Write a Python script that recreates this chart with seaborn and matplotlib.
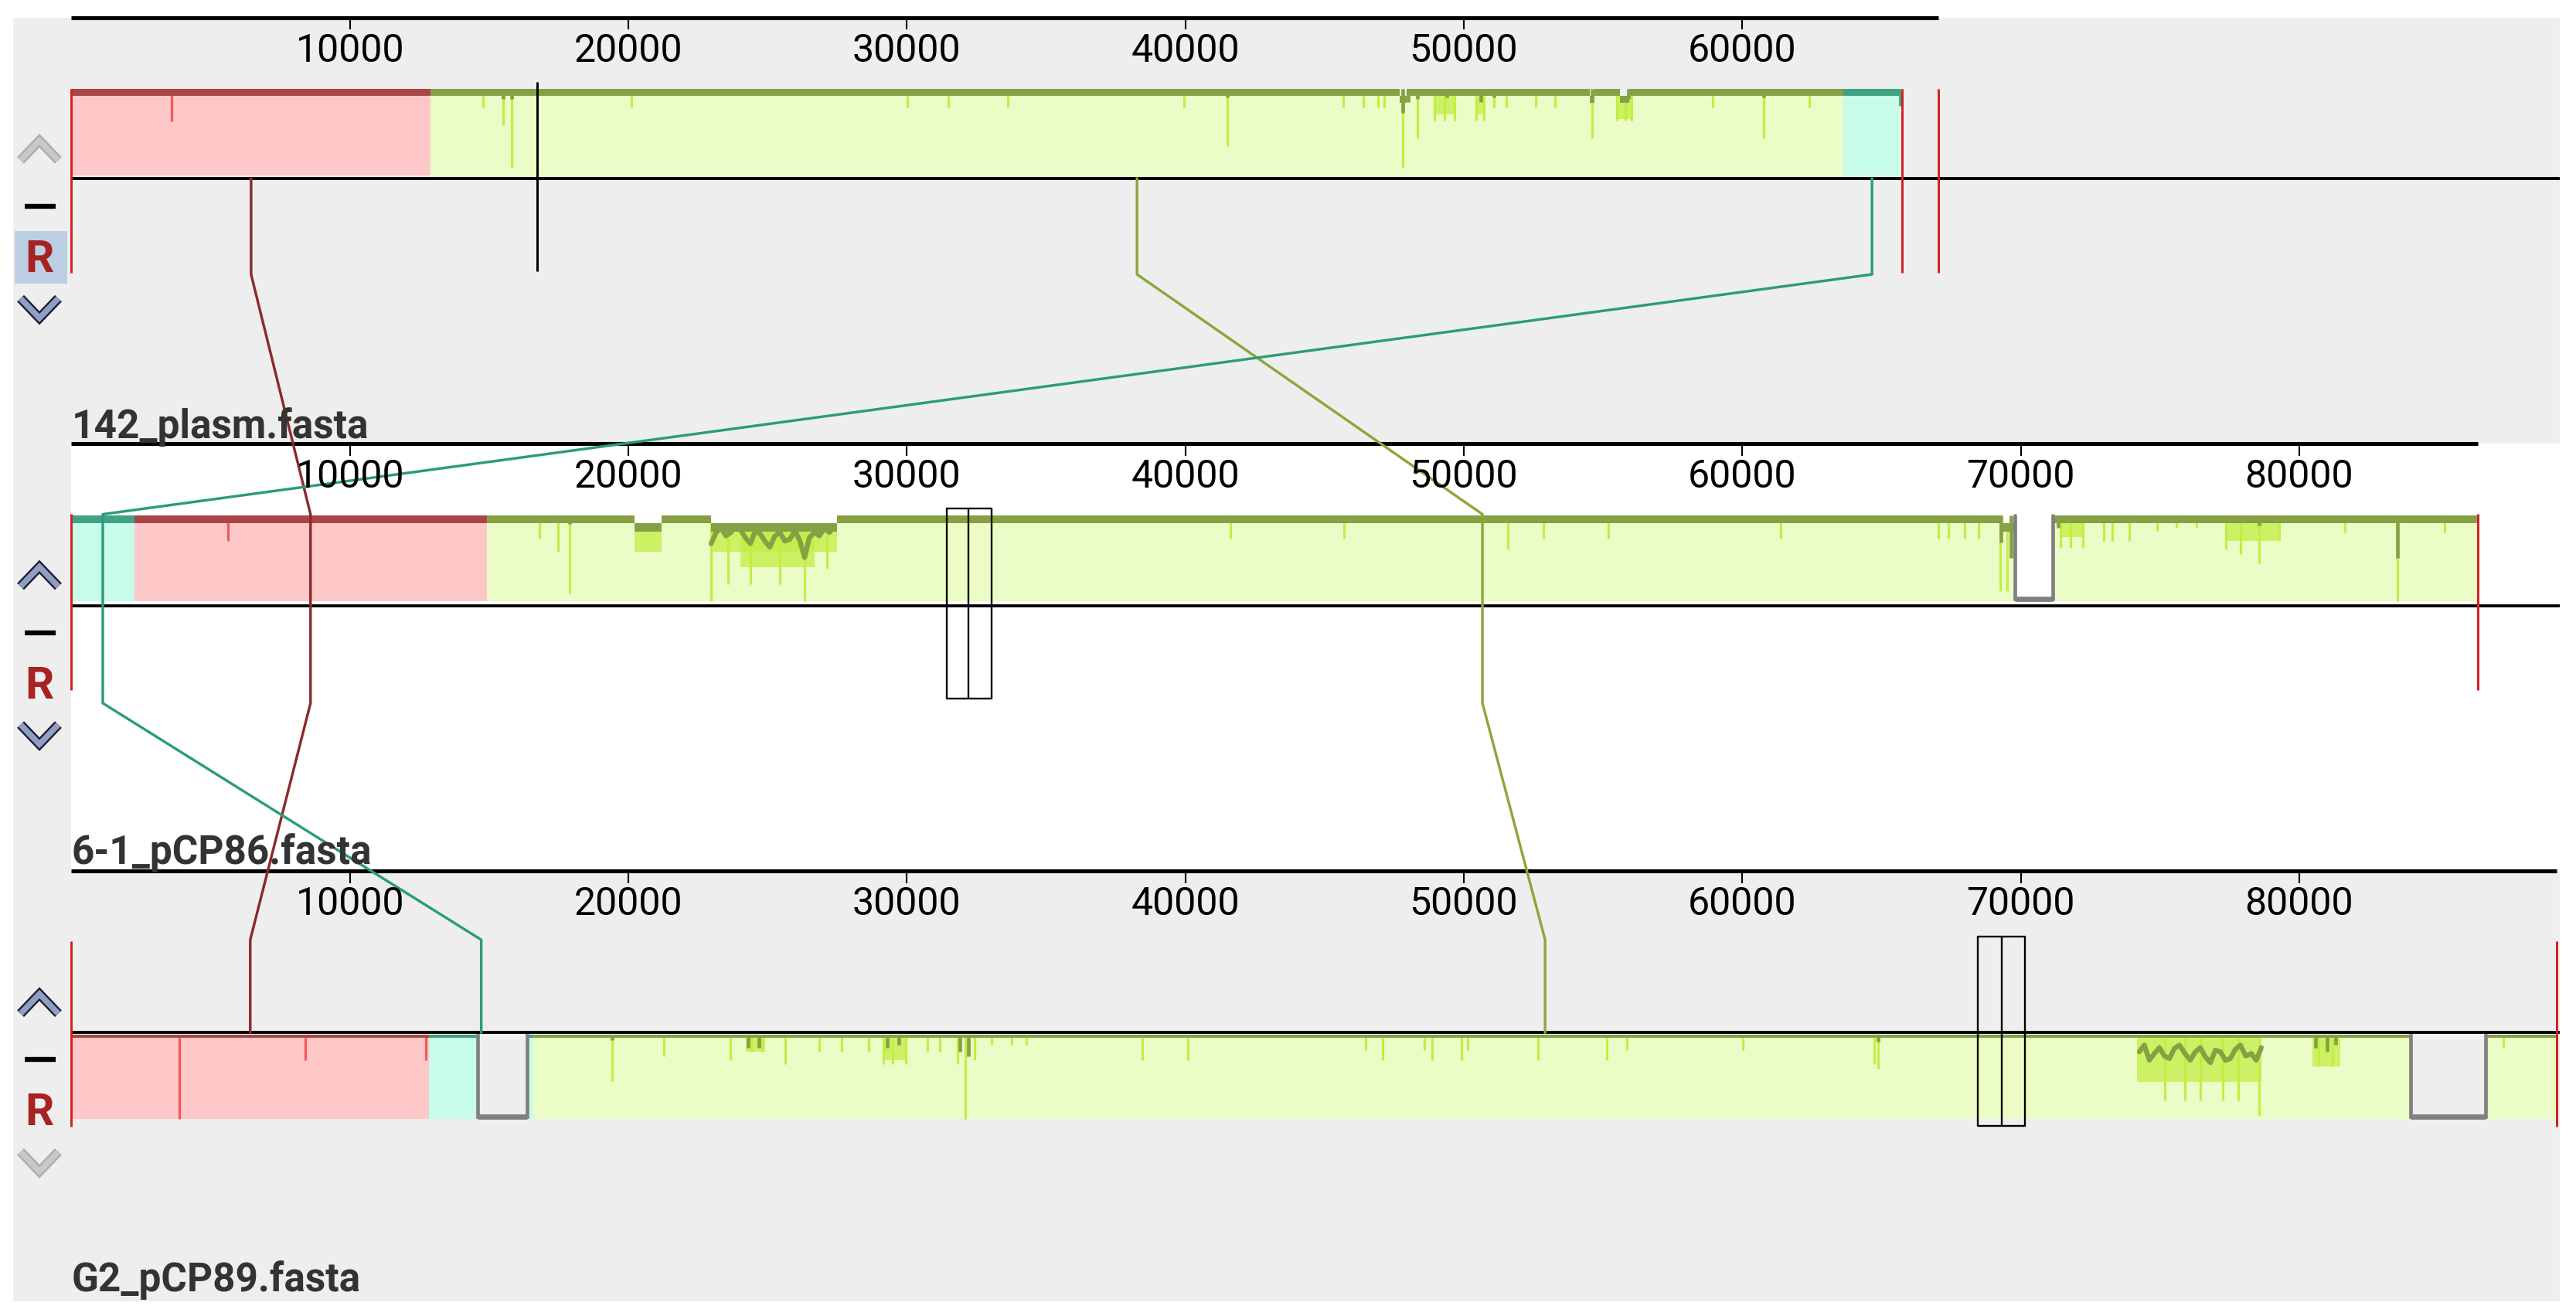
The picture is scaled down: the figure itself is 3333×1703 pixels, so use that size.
import pandas as pd
import matplotlib
matplotlib.use("Agg")
import matplotlib.pyplot as plt
import matplotlib.patheffects as pe
from matplotlib.patches import Rectangle
import seaborn as sns

# ---------------- data (positions in bp) ----------------
genome_names = ["142_plasm.fasta", "6-1_pCP86.fasta", "G2_pCP89.fasta"]
genome_lengths = [67050, 86420, 89250]
tick_step = 10000
lcb_names = ["red", "green", "cyan"]

# locally collinear blocks
g1_starts = [0, 12900, 63630]
g1_ends = [12900, 63630, 65690]
g1_lcbs = ["red", "green", "cyan"]
g2_starts = [0, 2250, 14920]
g2_ends = [2250, 14920, 86420]
g2_lcbs = ["cyan", "red", "green"]
g3_starts = [0, 12840, 16590]
g3_ends = [12840, 16590, 89250]
g3_lcbs = ["red", "cyan", "green"]

# similarity profile: low-identity spikes (position, depth as fraction of block height)
g1_spike_pos = [3590, 14780, 15500, 15810, 20110, 30020, 31500, 33630, 39950, 41510,
                45670, 46390, 46930, 47150, 47810, 48340, 48950, 49300, 49670, 50440,
                50720, 51090, 51530, 52590, 53280, 54610, 55500, 55800, 56030, 58940,
                60770, 62410]
g1_spike_depth = [.38, .22, .42, .91, .22, .22, .22, .22, .22, .66,
                  .22, .22, .22, .22, .91, .57, .37, .37, .37, .37,
                  .37, .22, .22, .22, .22, .57, .37, .37, .37, .22,
                  .57, .22]
g2_spike_pos = [5620, 16810, 17470, 17890, 22970, 23570, 24380, 25440, 26330, 27130,
                41620, 45700, 51580, 52860, 55190, 61380, 67050, 67400, 68000, 68490,
                69270, 69500, 71420, 71800, 72240, 72980, 73300, 73900, 74900, 75600,
                76300, 77370, 77900, 78550, 79280, 81650, 83530, 85230]
g2_spike_depth = [.3, .27, .42, .91, 1.0, .8, .8, .8, 1.0, .62,
                  .27, .27, .4, .27, .27, .27, .27, .27, .27, .27,
                  .88, .88, .38, .38, .38, .3, .3, .3, .18, .15,
                  .15, .4, .45, .56, .3, .2, 1.0, .2]
g3_spike_pos = [3880, 8400, 12730, 19420, 21280, 23670, 24400, 24800, 25630, 26860,
                27660, 28630, 29160, 29500, 29970, 30750, 31190, 31830, 32100, 32440,
                33050, 33770, 34300, 38460, 40100, 46470, 47090, 48580, 48860, 49910,
                50140, 52660, 55140, 55860, 60020, 64740, 64880, 75170, 75900, 76450,
                77260, 77810, 78550, 80700, 81200, 87330]
g3_spike_depth = [1.0, .3, .3, .55, .25, .3, .2, .2, .35, .2,
                  .2, .2, .35, .35, .35, .2, .2, .35, 1.0, .3,
                  .12, .12, .12, .3, .3, .18, .3, .18, .3, .3,
                  .18, .3, .3, .18, .18, .35, .4, .78, .78, .78,
                  .78, .78, .96, .37, .37, .15]

# darker dips of the profile line
g1_dip_pos = [15500, 15810, 41510, 47810, 48000, 48340, 49400, 50600, 51090, 54610, 55900, 60770, 65690]
g1_dip_depth = [.12, .12, .1, .28, .15, .12, .1, .15, .1, .12, .12, .1, .2]
g2_dip_pos = [17890, 69300, 69650, 71350, 78550, 83530]
g2_dip_depth = [.1, .32, .5, .15, .12, .5]
g3_dip_pos = [19420, 24300, 24700, 29300, 29700, 31900, 32200, 64880, 80600, 81000, 81300]
g3_dip_depth = [.06, .15, .15, .15, .12, .2, .25, .08, .15, .2, .12]

# broad low-identity stretches
g1_patch_start = [48950, 50440, 55500]
g1_patch_end = [49670, 50720, 56030]
g1_patch_depth = [.3, .3, .35]
g2_patch_start = [20220, 22970, 24030, 71420, 77370]
g2_patch_end = [21200, 27500, 26700, 72240, 79280]
g2_patch_depth = [.42, .42, .6, .25, .3]
g3_patch_start = [24220, 29160, 74190, 80480]
g3_patch_end = [24910, 29970, 78650, 81480]
g3_patch_depth = [.2, .3, .56, .37]

# places where the profile drops below the block top
g1_notch_start = [47700, 54520, 55600]
g1_notch_end = [47950, 54700, 55950]
g2_notch_start = [20220, 22970, 69330]
g2_notch_end = [21200, 27500, 69800]
g3_notch_start = []
g3_notch_end = []

# wiggling profile through the most divergent regions
g2_prof_pos = [22970, 23150, 23330, 23500, 23680, 23860, 24030, 24200, 24380, 24560, 24740, 24900,
               25080, 25260, 25440, 25620, 25800, 25980, 26160, 26330, 26500, 26690, 26860, 27040,
               27220, 27390]
g2_prof_depth = [.33, .2, .15, .24, .2, .12, .17, .26, .33, .18, .22, .3,
                 .37, .24, .2, .3, .28, .18, .3, .49, .26, .2, .24, .15, .2, .12]
g3_prof_pos = [74260, 74440, 74620, 74800, 74980, 75160, 75340, 75520, 75700, 75900, 76090, 76270,
               76450, 76630, 76810, 76990, 77170, 77350, 77530, 77710, 77890, 78080, 78280, 78460,
               78640]
g3_prof_depth = [.2, .12, .3, .22, .15, .25, .28, .16, .12, .22, .3, .2,
                 .15, .26, .33, .18, .2, .3, .28, .17, .12, .25, .22, .3, .15]

# unaligned gaps inside blocks
g1_gap_start, g1_gap_end = [], []
g2_gap_start, g2_gap_end = [69800], [71160]
g3_gap_start, g3_gap_end = [14600, 84000], [16360, 86700]

# contig / replicon boundaries, cursor and selection boxes
g1_marks = [0, 65750, 67050]
g2_marks = [0, 86420]
g3_marks = [0, 89250]
g1_cursor = [16720]
g1_boxes, g2_boxes, g3_boxes = [], [[31420, 32210, 33050]], [[68460, 69310, 70150]]

# ---------------- style ----------------
fill_col = {"red": "#ffc8c8", "green": "#ebfcc6", "cyan": "#c8fcea"}
band_col = {"red": "#a84646", "green": "#86a044", "cyan": "#3fa284"}
spike_col = {"red": "#f05a5a", "green": "#c2ee44", "cyan": "#48d0a8"}
link_col = {"red": "#8c2a2a", "green": "#8aa83a", "cyan": "#2b9b7b"}
GRAY_BG = "#eeeeee"

# layout in screen rows (0..801) ; x uses bp, decorations converted from screen px
X0, PX_PER_BP = 43.5, 0.01695


def dx(px):
    return (px - X0) / PX_PER_BP


layout = [
    dict(axis_y=10.6, top=54.0, bot=106.6, center=108.6, link=(108.6, 167), band=4.2,
         mark=(54, 166), box=(50, 165), bg=GRAY_BG, bg_bot=270, up_on=False, down_on=True, sel=True),
    dict(axis_y=270, top=313.6, bot=366.0, center=368.8, link=(313, 428), band=5.0,
         mark=(313, 420), box=(309.7, 425.4), bg="white", bg_bot=530, up_on=True, down_on=True, sel=False),
    dict(axis_y=530, top=630.0, bot=681.0, center=628.5, link=(572, 628.5), band=1.8,
         mark=(573, 686), box=(570, 685.4), bg=GRAY_BG, bg_bot=792, up_on=True, down_on=False, sel=False),
]

genomes = [
    dict(starts=g1_starts, ends=g1_ends, lcbs=g1_lcbs, sp=g1_spike_pos, sd=g1_spike_depth,
         dp=g1_dip_pos, dd=g1_dip_depth, ps=g1_patch_start, pe=g1_patch_end, pd=g1_patch_depth,
         ns=g1_notch_start, ne=g1_notch_end, prof=([], []), gs=g1_gap_start, ge=g1_gap_end,
         marks=g1_marks, boxes=g1_boxes),
    dict(starts=g2_starts, ends=g2_ends, lcbs=g2_lcbs, sp=g2_spike_pos, sd=g2_spike_depth,
         dp=g2_dip_pos, dd=g2_dip_depth, ps=g2_patch_start, pe=g2_patch_end, pd=g2_patch_depth,
         ns=g2_notch_start, ne=g2_notch_end, prof=(g2_prof_pos, g2_prof_depth), gs=g2_gap_start,
         ge=g2_gap_end, marks=g2_marks, boxes=g2_boxes),
    dict(starts=g3_starts, ends=g3_ends, lcbs=g3_lcbs, sp=g3_spike_pos, sd=g3_spike_depth,
         dp=g3_dip_pos, dd=g3_dip_depth, ps=g3_patch_start, pe=g3_patch_end, pd=g3_patch_depth,
         ns=g3_notch_start, ne=g3_notch_end, prof=(g3_prof_pos, g3_prof_depth), gs=g3_gap_start,
         ge=g3_gap_end, marks=g3_marks, boxes=g3_boxes),
]

sns.set_theme(style="white")
plt.rcParams["font.family"] = ["Roboto", "DejaVu Sans"]

PT = 1.53  # points per screen px


def lcb_at(g, pos):
    for s, e, l in zip(g["starts"], g["ends"], g["lcbs"]):
        if s <= pos <= e:
            return l
    return "green"


def chevron(ax, cx, cy, up, on):
    hw, hh = 11.5, 6
    sgn = 1 if up else -1
    xs = [dx(cx - hw), dx(cx), dx(cx + hw)]
    ys = [cy + sgn * hh, cy - sgn * hh, cy + sgn * hh]
    face, edge = ("#8e9ec6", "#1c1c2c") if on else ("#c8c8c8", "#acacac")
    ax.plot(xs, ys, color=face, lw=3.6 * PT, solid_joinstyle="miter", solid_capstyle="butt",
            path_effects=[pe.Stroke(linewidth=5.8 * PT, foreground=edge), pe.Normal()], zorder=12)


def draw_genome(ax, name, length, g, lay):
    top, bot = lay["top"], lay["bot"]
    h = bot - top
    right = dx(1558)
    # backgrounds
    ax.add_patch(Rectangle((dx(8), lay["axis_y"]), right - dx(8), lay["bg_bot"] - lay["axis_y"],
                           color=lay["bg"], lw=0, zorder=0))
    ax.add_patch(Rectangle((dx(8), lay["axis_y"]), dx(43.5) - dx(8), lay["bg_bot"] - lay["axis_y"],
                           color=GRAY_BG, lw=0, zorder=0))
    # ruler
    ax.hlines(lay["axis_y"], 0, length, color="black", lw=2.4 * PT, zorder=9)
    ticks = list(range(tick_step, length, tick_step))
    ax.vlines(ticks, lay["axis_y"], lay["axis_y"] + 7.5, color="black", lw=1 * PT, zorder=9)
    for t in ticks:
        ax.text(t, lay["axis_y"] + 27, str(t), ha="center", va="baseline", color="black",
                fontsize=36, zorder=11)
    # blocks
    for s, e, l in zip(g["starts"], g["ends"], g["lcbs"]):
        ax.add_patch(Rectangle((s, top), e - s, h, color=fill_col[l], lw=0, zorder=1))
        ax.add_patch(Rectangle((s, top), e - s, lay["band"], color=band_col[l], lw=0, zorder=4))
    for s, e, d in zip(g["ps"], g["pe"], g["pd"]):
        l = lcb_at(g, s)
        ax.add_patch(Rectangle((s, top), e - s, d * h, color=spike_col[l], lw=0, alpha=.75, zorder=2))
    for p, d in zip(g["sp"], g["sd"]):
        ax.vlines(p, top, top + d * h, color=spike_col[lcb_at(g, p)], lw=1.5 * PT, zorder=3)
    for s, e in zip(g["ns"], g["ne"]):
        l = lcb_at(g, s)
        ax.add_patch(Rectangle((s, top), e - s, lay["band"], color=lay["bg"], lw=0, zorder=5))
        ax.add_patch(Rectangle((s, top + lay["band"]), e - s, lay["band"], color=band_col[l], lw=0, zorder=5))
    for p, d in zip(g["dp"], g["dd"]):
        ax.vlines(p, top, top + d * h, color=band_col[lcb_at(g, p)], lw=2.2 * PT, zorder=6)
    pp, pd_ = g["prof"]
    if pp:
        ax.plot(pp, [top + d * h for d in pd_], color=band_col["green"], lw=3 * PT, zorder=6)
    for s, e in zip(g["gs"], g["ge"]):
        ax.add_patch(Rectangle((s, top), e - s, h, color=lay["bg"], lw=0, zorder=7))
        ax.plot([s, s, e, e], [top, bot - 1.5, bot - 1.5, top], color="#808080", lw=2.2 * PT,
                solid_joinstyle="miter", zorder=7)
        ax.hlines(bot - 1.5, s, e, color="#808080", lw=3.2 * PT, zorder=7)
    # center line
    ax.hlines(lay["center"], 0, right, color="black", lw=1.8 * PT, zorder=8)
    # boundaries
    ax.vlines(g["marks"], lay["mark"][0], lay["mark"][1], color="#d42020", lw=1.4 * PT, zorder=9)
    for b in g["boxes"]:
        y0, y1 = lay["box"]
        ax.plot([b[0], b[2], b[2], b[0], b[0]], [y0, y0, y1, y1, y0], color="black", lw=1.1 * PT, zorder=11)
        ax.vlines(b[1], y0, y1, color="black", lw=1.1 * PT, zorder=11)
    # name
    ax.text(0, lay["axis_y"] + 256, name, ha="left", va="baseline", color="#333333",
            weight="bold", fontsize=37, zorder=11)
    # side controls
    ay = lay["axis_y"]
    chevron(ax, 24, ay + 81, True, lay["up_on"])
    ax.hlines(ay + 115, dx(15), dx(34), color="black", lw=3 * PT, zorder=12)
    if lay["sel"]:
        ax.add_patch(Rectangle((dx(9), ay + 130), dx(41) - dx(9), 32, color="#bccfe2", lw=0, zorder=11))
    ax.text(dx(24), ay + 155, "R", ha="center", va="baseline", color="#a82222", weight="bold",
            fontsize=42, zorder=12)
    chevron(ax, 24, ay + 177, False, lay["down_on"])


fig = plt.figure(figsize=(33.33, 17.03), dpi=100)
ax = fig.add_axes([0, 0, 1, 1])

for name, length, g, lay in zip(genome_names, genome_lengths, genomes, layout):
    draw_genome(ax, name, length, g, lay)

# LCB connection lines through the block midpoints of each genome
rows = []
for lcb in lcb_names:
    k = 0
    for g, lay in zip(genomes, layout):
        i = g["lcbs"].index(lcb)
        mid = (g["starts"][i] + g["ends"][i]) / 2
        for y in lay["link"]:
            rows.append(dict(lcb=lcb, bp=mid, y=y, order=k))
            k += 1
links = pd.DataFrame(rows)
sns.lineplot(data=links, x="bp", y="y", hue="lcb", palette=link_col, sort=False,
             estimator=None, legend=False, lw=1.6 * PT, ax=ax, zorder=10)
# cursor
ax.vlines(g1_cursor, 50, 165, color="black", lw=1.4 * PT, zorder=10)

ax.set_xlim(dx(0), dx(1568))
ax.set_ylim(801, 0)
ax.set_axis_off()
fig.savefig("out.png", dpi=100, facecolor="white")
